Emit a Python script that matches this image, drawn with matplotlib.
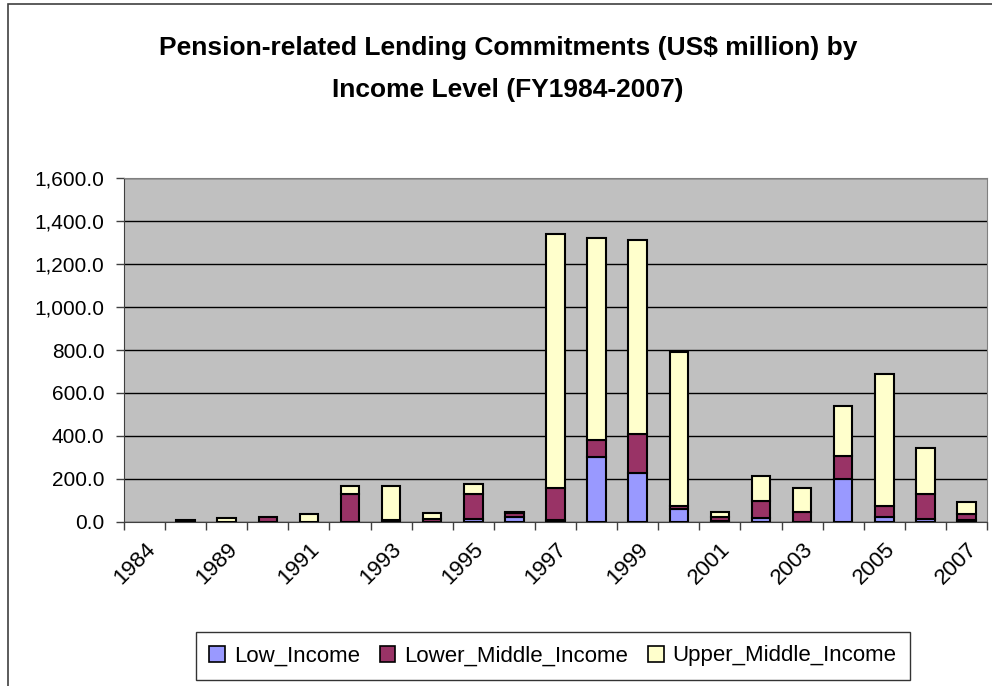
import matplotlib.pyplot as plt
import matplotlib.transforms as mtransforms
import numpy as np
from matplotlib.patches import Rectangle
from matplotlib.ticker import FuncFormatter

plt.rcParams['font.family'] = ['Liberation Sans Narrow', 'Liberation Sans', 'DejaVu Sans']

years = ['1984', '1988', '1989', '1990', '1991', '1992', '1993', '1994', '1995', '1996',
         '1997', '1998', '1999', '2000', '2001', '2002', '2003', '2004', '2005', '2006', '2007']
low_income = [0, 0, 0, 0, 0, 0, 0, 0, 14, 23, 8, 303, 228, 60, 3, 16, 0, 200, 23, 14, 6]
lower_middle = [0, 10, 0, 20, 0, 127, 10, 12, 113, 16, 147, 78, 179, 15, 17, 82, 44, 106, 50, 115, 30]
upper_middle = [0, 0, 19, 0, 38, 41, 158, 27, 50, 8, 1186, 940, 906, 714, 27, 116, 114, 233, 615, 216, 55]

series = [('Low_Income', low_income, '#9999FF'),
          ('Lower_Middle_Income', lower_middle, '#993366'),
          ('Upper_Middle_Income', upper_middle, '#FFFFCC')]

fig = plt.figure(figsize=(9.92, 6.86), dpi=100)
ax = fig.add_axes([124 / 992, 1 - 521.7 / 686, 863 / 992, 343.4 / 686])
ax.set_facecolor('#C0C0C0')

x = np.arange(len(years))
bottom = np.zeros(len(years))
handles = []
for name, vals, col in series:
    vals = np.array(vals, dtype=float)
    m = vals > 0
    ax.bar(x[m], vals[m], bottom=bottom[m], width=0.45, color=col,
           edgecolor='black', linewidth=1.5, zorder=3)
    handles.append(Rectangle((0, 0), 1, 1, facecolor=col, edgecolor='black', linewidth=1.2))
    bottom += vals

ax.set_xlim(-0.5, len(years) - 0.5)
ax.set_ylim(0, 1600)
ax.set_yticks(np.arange(0, 1601, 200))
ax.yaxis.set_major_formatter(FuncFormatter(lambda v, p: f'{v:,.1f}'))
ax.grid(axis='y', color='black', linewidth=1, zorder=1)
ax.set_axisbelow(True)

# category boundaries get the tick marks, labels every other category
ax.set_xticks(np.arange(-0.5, len(years), 1))
ax.set_xticklabels([])
ax.set_xticks(x[::2], minor=True)
labels = ax.set_xticklabels([years[i] for i in x[::2]], minor=True, rotation=45,
                            ha='right', va='top', rotation_mode='anchor', fontsize=16)
shift = mtransforms.ScaledTranslation(-9 / 100, -14 / 100, fig.dpi_scale_trans)
for lab in labels:
    lab.set_transform(lab.get_transform() + shift)
ax.tick_params(axis='x', which='minor', length=0, pad=12)
ax.tick_params(axis='x', which='major', length=6, width=1, color='#404040')
ax.tick_params(axis='y', length=6, width=1, labelsize=15, pad=8, color='#404040')

ax.spines['left'].set_color('#404040')
ax.spines['bottom'].set_color('#404040')
ax.spines['top'].set_color('#808080')
ax.spines['right'].set_color('#808080')

fig.text(0.512, 1 - 48 / 686, 'Pension-related Lending Commitments (US$ million) by',
         ha='center', va='center', fontsize=19, fontweight='bold')
fig.text(0.512, 1 - 90 / 686, 'Income Level (FY1984-2007)',
         ha='center', va='center', fontsize=19, fontweight='bold')

leg = fig.legend(handles, [s[0] for s in series], loc='center', ncol=3,
                 bbox_to_anchor=(553 / 992, 1 - 656 / 686), fontsize=16,
                 frameon=True, fancybox=False, edgecolor='black',
                 handlelength=0.7, handleheight=0.7, handletextpad=0.4,
                 columnspacing=0.9, borderpad=0.6)
leg.get_frame().set_linewidth(1)

fig.patches.append(Rectangle((8 / 992, -0.01), 1.0, 1 - 4 / 686 + 0.01, transform=fig.transFigure,
                             fill=False, edgecolor='#404040', linewidth=1.2))

fig.savefig('out.png', dpi=100)
